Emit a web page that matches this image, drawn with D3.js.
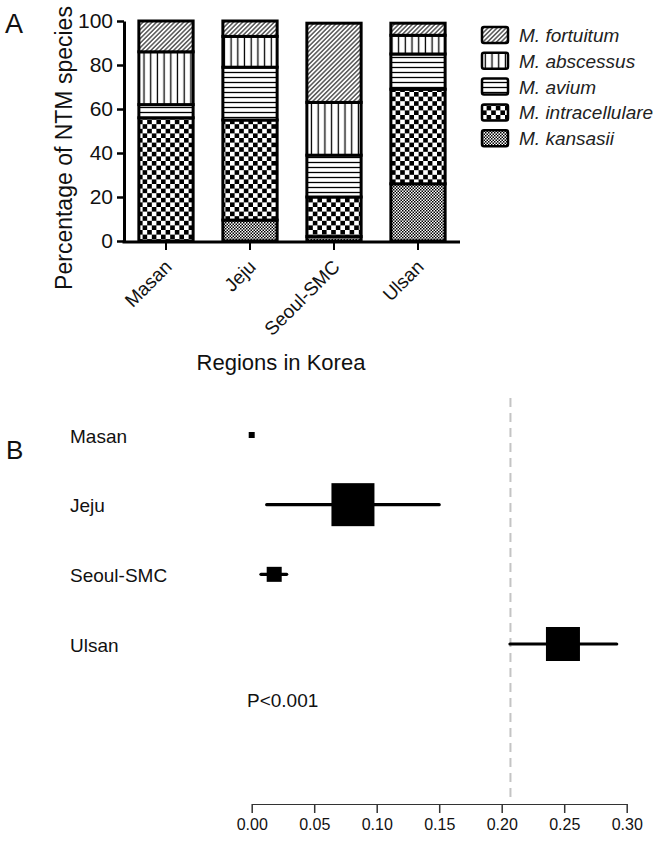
<!DOCTYPE html>
<html>
<head>
<meta charset="utf-8">
<script src="https://cdn.jsdelivr.net/npm/d3@7"></script>
<style>
  body { margin: 0; background: #fff; }
  svg { display: block; font-family: "Liberation Sans", Arial, Helvetica, sans-serif; }
</style>
</head>
<body>
<svg width="662" height="841"></svg>
<script>
// panel A: stacked percentages, bottom to top
var regions = ["Masan", "Jeju", "Seoul-SMC", "Ulsan"];
var species = ["M. kansasii", "M. intracellulare", "M. avium", "M. abscessus", "M. fortuitum"];
var kansasii       = [0, 9.5, 2, 26];
var intracellulare = [56, 45.5, 18, 43];
var avium          = [6, 24, 19, 16];
var abscessus      = [24, 14, 24, 8.5];
var fortuitum      = [14, 7, 36, 5.5];
var yTicks = [0, 20, 40, 60, 80, 100];

// panel B: forest plot
var estimate = [0.0, 0.081, 0.018, 0.249];
var lower    = [0.0, 0.012, 0.0074, 0.2066];
var upper    = [0.0, 0.150, 0.028, 0.292];
var weight   = [1.1, 56.6, 6.9, 35.4];
var pooled   = 0.207;
var xTicksB  = [0, 0.05, 0.10, 0.15, 0.20, 0.25, 0.30];

var svg = d3.select("svg");
var defs = svg.append("defs");

// fill patterns
var p = defs.append("pattern").attr("id", "pat0").attr("patternUnits", "userSpaceOnUse")
    .attr("width", 3).attr("height", 3);
p.append("rect").attr("width", 3).attr("height", 3).attr("fill", "#fff");
p.append("rect").attr("width", 1.5).attr("height", 1.5).attr("fill", "#000");
p.append("rect").attr("x", 1.5).attr("y", 1.5).attr("width", 1.5).attr("height", 1.5).attr("fill", "#000");

p = defs.append("pattern").attr("id", "pat1").attr("patternUnits", "userSpaceOnUse")
    .attr("width", 9.2).attr("height", 9.2);
p.append("rect").attr("width", 9.2).attr("height", 9.2).attr("fill", "#fff");
p.append("rect").attr("width", 4.6).attr("height", 4.6).attr("fill", "#000");
p.append("rect").attr("x", 4.6).attr("y", 4.6).attr("width", 4.6).attr("height", 4.6).attr("fill", "#000");

p = defs.append("pattern").attr("id", "pat2").attr("patternUnits", "userSpaceOnUse")
    .attr("width", 10).attr("height", 5);
p.append("rect").attr("width", 10).attr("height", 5).attr("fill", "#fff");
p.append("line").attr("x1", 0).attr("x2", 10).attr("y1", 2.5).attr("y2", 2.5)
    .attr("stroke", "#000").attr("stroke-width", 1.3);

p = defs.append("pattern").attr("id", "pat3").attr("patternUnits", "userSpaceOnUse")
    .attr("width", 6.7).attr("height", 10);
p.append("rect").attr("width", 6.7).attr("height", 10).attr("fill", "#fff");
p.append("line").attr("x1", 3.3).attr("x2", 3.3).attr("y1", 0).attr("y2", 10)
    .attr("stroke", "#000").attr("stroke-width", 1.3);

p = defs.append("pattern").attr("id", "pat4").attr("patternUnits", "userSpaceOnUse")
    .attr("width", 3.2).attr("height", 3.2).attr("patternTransform", "rotate(45)");
p.append("rect").attr("width", 3.2).attr("height", 3.2).attr("fill", "#fff");
p.append("line").attr("x1", 1.6).attr("x2", 1.6).attr("y1", 0).attr("y2", 3.2)
    .attr("stroke", "#000").attr("stroke-width", 1);

// ---------- panel A ----------
var x = d3.scaleBand().domain(regions).range([124, 460]).paddingInner(0.354).paddingOuter(0.177);
var y = d3.scaleLinear().domain([0, 100]).range([241, 21]);

var table = regions.map(function(r, i) {
    return { region: r, "M. kansasii": kansasii[i], "M. intracellulare": intracellulare[i],
             "M. avium": avium[i], "M. abscessus": abscessus[i], "M. fortuitum": fortuitum[i] };
});
var stacked = d3.stack().keys(species)(table);

svg.append("g").selectAll("g")
    .data(stacked)
    .enter().append("g")
    .attr("fill", function(d, i) { return "url(#pat" + i + ")"; })
    .selectAll("rect")
    .data(function(d) { return d; })
    .enter().append("rect")
    .attr("x", function(d) { return x(d.data.region); })
    .attr("width", x.bandwidth())
    .attr("y", function(d) { return y(d[1]); })
    .attr("height", function(d) { return y(d[0]) - y(d[1]); })
    .attr("stroke", "#000")
    .attr("stroke-width", 3);

var yAxis = svg.append("g").attr("transform", "translate(124,0)")
    .call(d3.axisLeft(y).tickValues(yTicks).tickSize(7).tickSizeOuter(0).tickPadding(4));
yAxis.select(".domain").attr("stroke-width", 3);
yAxis.selectAll(".tick line").attr("stroke-width", 2.5);
yAxis.selectAll(".tick text").attr("font-size", 21).attr("fill", "#111").attr("font-family", null);

var xAxis = svg.append("g").attr("transform", "translate(0,242)")
    .call(d3.axisBottom(x).tickSize(8).tickSizeOuter(0));
xAxis.select(".domain").attr("stroke-width", 3).attr("d", "M122.5,0H460");
xAxis.selectAll(".tick line").attr("stroke-width", 2);
xAxis.selectAll(".tick text")
    .attr("font-size", 19).attr("fill", "#111").attr("font-family", null)
    .attr("text-anchor", "end").attr("x", 0).attr("y", 0).attr("dy", 0)
    .attr("transform", "translate(7,26) rotate(-45)");

svg.append("text").attr("transform", "translate(72,148) rotate(-90)")
    .attr("text-anchor", "middle").attr("font-size", 23).attr("fill", "#111")
    .text("Percentage of NTM species");
svg.append("text").attr("x", 281).attr("y", 370).attr("text-anchor", "middle")
    .attr("font-size", 22).attr("fill", "#111").text("Regions in Korea");
svg.append("text").attr("x", 5).attr("y", 33).attr("font-size", 27).attr("fill", "#111").text("A");

// legend, top to bottom
var legendKeys = species.slice().reverse();
var legend = svg.append("g").attr("transform", "translate(482,0)");
legend.selectAll("rect")
    .data(legendKeys)
    .enter().append("rect")
    .attr("x", 0).attr("y", function(d, i) { return 27 + i * 25.8; })
    .attr("width", 26).attr("height", 16).attr("rx", 2)
    .attr("fill", function(d) { return "url(#pat" + species.indexOf(d) + ")"; })
    .attr("stroke", "#000").attr("stroke-width", 2.5);
legend.selectAll("text")
    .data(legendKeys)
    .enter().append("text")
    .attr("x", 37).attr("y", function(d, i) { return 42 + i * 25.8; })
    .attr("font-size", 19).attr("font-style", "italic").attr("fill", "#222")
    .text(function(d) { return d; });

// ---------- panel B ----------
var xb = d3.scaleLinear().domain([0, 0.30]).range([251.7, 626.7]);
var yb = d3.scalePoint().domain(regions).range([435, 644]);
var size = d3.scaleSqrt().domain([0, d3.max(weight)]).range([0, 43]);

svg.append("text").attr("x", 6).attr("y", 459).attr("font-size", 26).attr("fill", "#111").text("B");

svg.append("line")
    .attr("x1", xb(pooled)).attr("x2", xb(pooled))
    .attr("y1", 398).attr("y2", 803)
    .attr("stroke", "#c4c4c4").attr("stroke-width", 2).attr("stroke-dasharray", "9,6");

svg.append("g").selectAll("text")
    .data(regions)
    .enter().append("text")
    .attr("x", 70).attr("y", function(d) { return yb(d) + 7.5; })
    .attr("font-size", 19).attr("fill", "#111")
    .text(function(d) { return d; });

var rows = svg.append("g").selectAll("g")
    .data(regions)
    .enter().append("g");
rows.append("line")
    .attr("x1", function(d, i) { return xb(lower[i]); })
    .attr("x2", function(d, i) { return xb(upper[i]); })
    .attr("y1", function(d) { return yb(d); })
    .attr("y2", function(d) { return yb(d); })
    .attr("stroke", "#000").attr("stroke-width", 3.2).attr("stroke-linecap", "round");
rows.append("rect")
    .attr("x", function(d, i) { return xb(estimate[i]) - size(weight[i]) / 2; })
    .attr("y", function(d, i) { return yb(d) - size(weight[i]) / 2; })
    .attr("width", function(d, i) { return size(weight[i]); })
    .attr("height", function(d, i) { return size(weight[i]); })
    .attr("fill", "#000");

svg.append("text").attr("x", 247).attr("y", 707).attr("font-size", 19).attr("fill", "#111")
    .text("P<0.001");

var bAxis = svg.append("g").attr("transform", "translate(0,804)")
    .call(d3.axisBottom(xb).tickValues(xTicksB).tickFormat(d3.format(".2f")).tickSize(9).tickSizeOuter(0).tickPadding(6));
bAxis.select(".domain").attr("stroke", "#333");
bAxis.selectAll(".tick line").attr("stroke", "#333").attr("stroke-width", 1.5);
bAxis.selectAll(".tick text").attr("font-size", 16).attr("fill", "#111").attr("font-family", null);
</script>
</body>
</html>
